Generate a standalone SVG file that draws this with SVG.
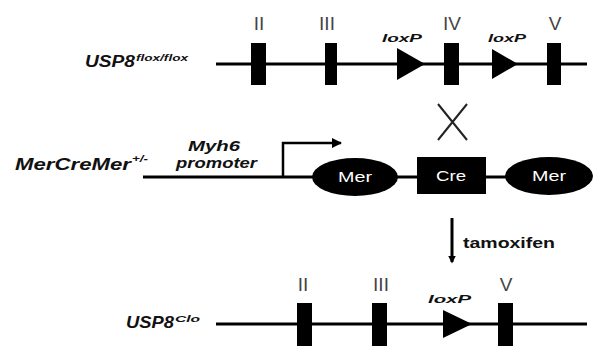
<svg xmlns="http://www.w3.org/2000/svg" width="595" height="350" viewBox="0 0 595 350">
<defs>
<style>
.ln{stroke:#000;stroke-width:3;fill:none}
.ex{fill:#000}
.rn{font-family:"Liberation Sans",Arial,sans-serif;font-size:19px;fill:#444;text-anchor:middle}
.bi{font-family:"Liberation Sans",Arial,sans-serif;font-weight:bold;font-style:italic;fill:#111}
.wt{font-family:"Liberation Sans",Arial,sans-serif;font-size:14px;fill:#fff;text-anchor:middle}
.lx{fill:#000}
</style>
<marker id="ah" viewBox="0 0 10 10" refX="9" refY="5" markerWidth="4" markerHeight="4" orient="auto"><path d="M0,0 L10,5 L0,10 z" fill="#000"/></marker>
<marker id="ah2" viewBox="0 0 10 10" refX="8" refY="5" markerWidth="2.6" markerHeight="2.6" orient="auto"><path d="M0,0 L10,5 L0,10 z" fill="#000"/></marker>
</defs>
<rect width="595" height="350" fill="#fff"/>

<g id="connectors">
<line class="ln" x1="216" y1="64" x2="587" y2="64"/>
<line class="ln" x1="143" y1="177" x2="315" y2="177"/>
<line x1="395" y1="177" x2="420" y2="177" stroke="#000" stroke-width="3"/>
<line x1="484" y1="177" x2="508" y2="177" stroke="#000" stroke-width="3"/>
<path d="M283,177 V143 H341" stroke="#000" stroke-width="2.5" fill="none" marker-end="url(#ah)"/>
<line x1="452" y1="218" x2="452" y2="262" stroke="#000" stroke-width="3" marker-end="url(#ah2)"/>
<line class="ln" x1="216" y1="324" x2="587" y2="324"/>
</g>

<g id="usp8flox">
<text class="bi" x="85" y="67" font-size="16" textLength="50" lengthAdjust="spacingAndGlyphs">USP8</text>
<text class="bi" x="136" y="61" font-size="9" textLength="52" lengthAdjust="spacingAndGlyphs">flox/flox</text>
</g>
<g id="exon1-II"><rect class="ex" x="251" y="43" width="15" height="42"/><text class="rn" x="259" y="30">II</text></g>
<g id="exon1-III"><rect class="ex" x="325" y="43" width="12" height="42"/><text class="rn" x="327" y="30">III</text></g>
<g id="loxp1a"><path class="lx" d="M397,48 L425,64 L397,80 z"/><text class="bi" x="382" y="42" font-size="11" textLength="40" lengthAdjust="spacingAndGlyphs">loxP</text></g>
<g id="exon1-IV"><rect class="ex" x="444" y="43" width="15" height="42"/><text class="rn" x="452" y="30">IV</text></g>
<g id="loxp1b"><path class="lx" d="M492,49 L518,64 L492,79 z"/><text class="bi" x="488" y="42" font-size="11" textLength="38" lengthAdjust="spacingAndGlyphs">loxP</text></g>
<g id="exon1-V"><rect class="ex" x="547" y="43" width="14" height="42"/><text class="rn" x="555" y="30">V</text></g>

<g id="mercremer">
<text class="bi" x="15" y="170" font-size="16" textLength="116" lengthAdjust="spacingAndGlyphs">MerCreMer</text>
<text class="bi" x="132" y="162" font-size="9" textLength="16" lengthAdjust="spacingAndGlyphs">+/-</text>
</g>
<g id="promoter">
<text class="bi" x="188" y="151" font-size="14" textLength="52" lengthAdjust="spacingAndGlyphs">Myh6</text>
<text class="bi" x="176" y="168" font-size="14" textLength="81" lengthAdjust="spacingAndGlyphs">promoter</text>
</g>
<g id="mer1"><ellipse cx="355" cy="177" rx="43" ry="19" fill="#000"/><text class="wt" x="355" y="182" textLength="34" lengthAdjust="spacingAndGlyphs">Mer</text></g>
<g id="cre"><rect x="417" y="157" width="69" height="37" fill="#000"/><text class="wt" x="451" y="181" textLength="30" lengthAdjust="spacingAndGlyphs">Cre</text></g>
<g id="mer2"><ellipse cx="549" cy="176" rx="44" ry="19" fill="#000"/><text class="wt" x="549" y="181" textLength="34" lengthAdjust="spacingAndGlyphs">Mer</text></g>
<g id="cross"><path d="M438,104 L467,140 M467,104 L438,140" stroke="#222" stroke-width="2" fill="none"/></g>

<g id="tamoxifen"><text x="463" y="248" font-family="Liberation Sans,Arial,sans-serif" font-weight="bold" font-size="14" fill="#111" textLength="92" lengthAdjust="spacingAndGlyphs">tamoxifen</text></g>

<g id="usp8clo">
<text class="bi" x="126" y="328" font-size="17" textLength="48" lengthAdjust="spacingAndGlyphs">USP8</text>
<text class="bi" x="175" y="322" font-size="9" textLength="25" lengthAdjust="spacingAndGlyphs">Clo</text>
</g>
<g id="exon3-II"><rect class="ex" x="297" y="303" width="15" height="43"/><text class="rn" x="303" y="291">II</text></g>
<g id="exon3-III"><rect class="ex" x="372" y="303" width="15" height="43"/><text class="rn" x="381" y="291">III</text></g>
<g id="loxp3"><path class="lx" d="M443,310 L472,324 L443,338 z"/><text class="bi" x="428" y="303" font-size="11" textLength="43" lengthAdjust="spacingAndGlyphs">loxP</text></g>
<g id="exon3-V"><rect class="ex" x="498" y="303" width="15" height="43"/><text class="rn" x="506" y="291">V</text></g>
</svg>
